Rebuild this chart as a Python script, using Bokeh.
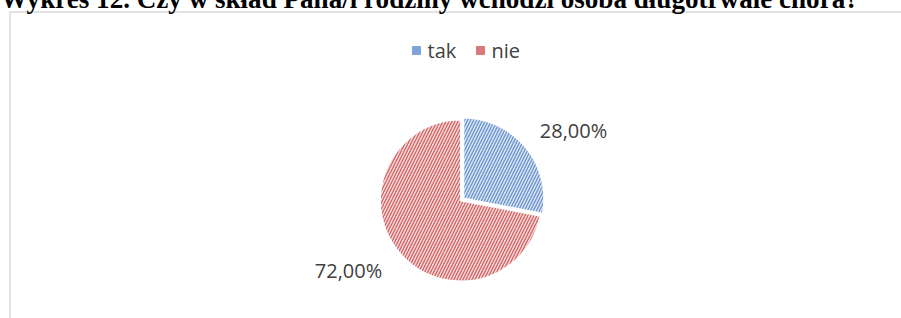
import numpy as np
from bokeh.plotting import figure
from bokeh.models import Range1d, ColumnDataSource
from bokeh.core.properties import value
from bokeh.embed import file_html
from bokeh.resources import INLINE

# ---- data ----
categories = ["tak", "nie"]
shares = [28.0, 72.0]
value_labels = ["28,00%", "72,00%"]
title_text = "Wykres 12. Czy w skład Pana/i rodziny wchodzi osoba długotrwale chora?"

# ---- styling / layout ----
fill_colors = ["#d8e3f3", "#f7d8d8"]
hatch_colors = ["#6b93cc", "#d06464"]
legend_colors = ["#7fa3d6", "#d97a7a"]
W, H = 901, 330
cx, cy, R = 460.5, 118.0, 81.0       # pie centre (data units = px)
explode = [3.0, 0.0]
label_pos = [(573.0, 188.0), (348.0, 48.0)]
legend_sq_x = [416.0, 480.0]
legend_txt_x = [427.0, 491.0]
legend_y = 268.0

p = figure(width=W, height=H, output_backend="svg", toolbar_location=None,
           x_range=Range1d(0, W), y_range=Range1d(0, H),
           min_border=0, outline_line_color=None, margin=(-12, 0, 0, 0))
p.axis.visible = False
p.grid.visible = False
p.background_fill_color = "white"
p.border_fill_color = "white"

# chart frame
p.quad(left=[9.5], right=[W + 20], top=[306.5], bottom=[-20],
       fill_color=None, line_color="#d9d9d9", line_width=1.5)

# title (partly cut off at the top of the page, as in the original)
p.text(x=[0], y=[320], text=[title_text], text_font=value("Liberation Serif"),
       text_font_style="bold", text_font_size="27.1px", text_color="black",
       text_baseline="alphabetic", text_align="left")

# pie
vals = np.array(shares)
frac = vals / vals.sum()
ends = np.pi / 2 - 2 * np.pi * np.cumsum(frac)
starts = np.concatenate([[np.pi / 2], ends[:-1]])
mids = (starts + ends) / 2
xs = cx + np.array(explode) * np.cos(mids)
ys = cy + np.array(explode) * np.sin(mids)

src = ColumnDataSource(dict(x=xs, y=ys, start=starts, end=ends,
                            fill=fill_colors, hatch=hatch_colors, cat=categories))
p.wedge(x="x", y="y", radius=R, start_angle="start", end_angle="end",
        direction="clock", source=src, fill_color="fill",
        hatch_pattern="/", hatch_color="hatch", hatch_scale=6, hatch_weight=1.3,
        line_color="white", line_width=2)

# value labels
p.text(x=[lp[0] for lp in label_pos], y=[lp[1] for lp in label_pos], text=value_labels,
       text_font=value("Open Sans"), text_font_size="20px", text_color="#404040",
       text_align="center", text_baseline="middle")

# legend
p.scatter(x=legend_sq_x, y=[legend_y] * len(categories), marker="square", size=8,
          fill_color=legend_colors, line_color=legend_colors)
p.text(x=legend_txt_x, y=[legend_y] * len(categories), text=categories,
       text_font=value("Open Sans"), text_font_size="20px", text_color="#404040",
       text_align="left", text_baseline="middle")

open("out.html", "w").write(file_html(p, INLINE))
